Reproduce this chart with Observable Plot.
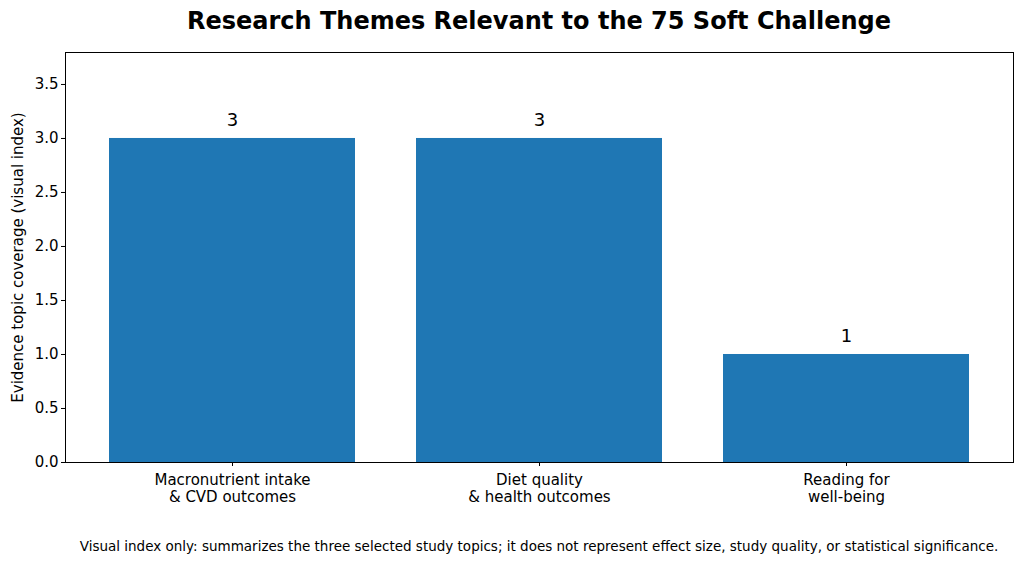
<!DOCTYPE html>
<html><head><meta charset="utf-8">
<script src="https://cdn.jsdelivr.net/npm/d3@7"></script>
<script src="https://cdn.jsdelivr.net/npm/@observablehq/plot@0.6"></script>
<style>
body{margin:0;background:#fff;font-family:"DejaVu Sans",sans-serif;}
#wrap{position:relative;width:1024px;height:566px;overflow:hidden;}
#title{position:absolute;left:0;top:0;width:1078px;height:40px;line-height:42px;text-align:center;font-weight:bold;font-size:24px;color:#000;}
#chart{position:absolute;left:0;top:40px;}
#cap{position:absolute;left:0;top:538px;width:1078px;text-align:center;font-size:13.5px;color:#000;}
#chart svg text{font-family:"DejaVu Sans",sans-serif;}
</style></head>
<body><div id="wrap"><div id="title">Research Themes Relevant to the 75 Soft Challenge</div><div id="chart"></div><div id="cap">Visual index only: summarizes the three selected study topics; it does not represent effect size, study quality, or statistical significance.</div></div>
<script>
const categories = ["Macronutrient intake\n& CVD outcomes", "Diet quality\n& health outcomes", "Reading for\nwell-being"];
const values = [3, 3, 1];
const yTicks = [0, 0.5, 1, 1.5, 2, 2.5, 3, 3.5];
const data = categories.map((c, i) => ({cat: c, v: values[i]}));
const plot = Plot.plot({
  width: 1024, height: 490,
  marginTop: 12, marginBottom: 68, marginLeft: 65, marginRight: 11,
  style: {fontFamily: "DejaVu Sans, sans-serif", fontSize: "15px", color: "#000", background: "#fff"},
  x: {domain: categories, paddingInner: 0.2, paddingOuter: 0.139, label: null},
  y: {domain: [0, 3.796], label: null},
  marks: [
    Plot.barY(data, {x: "cat", y: "v", fill: "#1f77b4"}),
    Plot.text(data, {x: "cat", y: "v", text: d => String(d.v), dy: -18, fontSize: 18, fill: "#000"}),
    Plot.axisY({ticks: yTicks, tickFormat: d3.format(".1f"), tickSize: 4, tickPadding: 3, fontSize: 15, label: null, stroke: "#000"}),
    Plot.axisX({tickSize: 4, tickPadding: 7, fontSize: 15, label: null, lineHeight: 1.1, stroke: "#000"}),
    Plot.text(["Evidence topic coverage (visual index)"], {frameAnchor: "left", dx: -47, rotate: -90, fontSize: 15, fill: "#000", textAnchor: "middle"}),
    Plot.frame({stroke: "#000", strokeWidth: 1})
  ]
});
document.getElementById("chart").appendChild(plot);
</script></body></html>
